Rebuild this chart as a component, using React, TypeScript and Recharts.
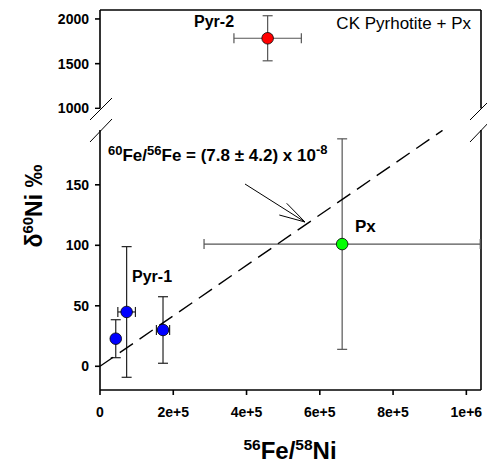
import React from "react";
import { ScatterChart, Scatter, XAxis, YAxis, ErrorBar, ReferenceLine } from "recharts";

// values
const xTicks = [0, 200000, 400000, 600000, 800000, 1000000];
const lowTicks = [0, 50, 100, 150];
const highTicks = [1000, 1500, 2000];
const xDomain = [0, 1040000];
const lowDomain = [-19.6, 195.3];
const highDomain = [1000, 2100];

const pyr1X = [43000, 72700, 172000];
const pyr1Y = [22.8, 44.9, 30];
const pyr1ErrX = [4000, 24000, 18000];
const pyr1ErrY = [15.7, 54, 27.5];

const pyr2X = [457600];
const pyr2Y = [1784];
const pyr2ErrX = [92000];
const pyr2ErrY = [252];

const pxX = [661000];
const pxY = [101];
const pxErrX = [377000];
const pxErrY = [87];

// regression 60Fe/56Fe fit, end points
const fitX = [0, 935000];
const fitY = [0, 195];

const toRows = (xs: number[], ys: number[], exs?: number[], eys?: number[]) =>
  xs.map((x, i) => ({ x, y: ys[i], ex: exs ? exs[i] : 0, ey: eys ? eys[i] : 0 }));

const pyr1 = toRows(pyr1X, pyr1Y, pyr1ErrX, pyr1ErrY);
const pyr2 = toRows(pyr2X, pyr2Y, pyr2ErrX, pyr2ErrY);
const px = toRows(pxX, pxY, pxErrX, pxErrY);
const fit = toRows(fitX, fitY);

const FONT = "'Liberation Sans', Arial, Helvetica, sans-serif";
const tickStyle = { fontSize: 14, fontWeight: 700, fill: "#000", fontFamily: FONT };
const axisLine = { stroke: "#000", strokeWidth: 1.6 };

const fmtX = (v: number) => (v === 0 ? "0" : v.toExponential(0));

const dot = (fill: string) => (p: any) =>
  <circle cx={p.cx} cy={p.cy} r={5.8} fill={fill} stroke="#000" strokeWidth={0.8} />;

export default function App() {
  return (
    <div style={{ position: "absolute", left: 0, top: 0, width: 487, height: 463, background: "#fff" }}>
      {/* lower panel */}
      <div style={{ position: "absolute", left: 0, top: 0 }}>
        <ScatterChart width={487} height={463} margin={{ top: 130, right: 6, bottom: 0, left: 0 }}>
          <XAxis
            type="number"
            dataKey="x"
            domain={xDomain}
            ticks={xTicks}
            tickFormatter={fmtX}
            allowDataOverflow
            height={73}
            tick={tickStyle}
            axisLine={axisLine}
            tickLine={axisLine}
            tickSize={5}
            tickMargin={12}
            interval={0}
          />
          <YAxis
            type="number"
            dataKey="y"
            domain={lowDomain}
            ticks={lowTicks}
            allowDataOverflow
            width={100}
            tick={tickStyle}
            axisLine={axisLine}
            tickLine={axisLine}
            tickSize={5}
            tickMargin={6}
          />
          <ReferenceLine x={xDomain[1]} stroke="#000" strokeWidth={1.6} />
          <Scatter
            data={fit}
            isAnimationActive={false}
            line={{ stroke: "#000", strokeWidth: 1.4, strokeDasharray: "16 8" }}
            shape={() => <g />}
          />
          <Scatter data={px} isAnimationActive={false} shape={dot("#00ff00")}>
            <ErrorBar dataKey="ey" direction="y" width={5} stroke="#555" strokeWidth={1.2} />
            <ErrorBar dataKey="ex" direction="x" width={5} stroke="#555" strokeWidth={1.2} />
          </Scatter>
          <Scatter data={pyr1} isAnimationActive={false} shape={dot("#0000ff")}>
            <ErrorBar dataKey="ey" direction="y" width={5} stroke="#222" strokeWidth={1.2} />
            <ErrorBar dataKey="ex" direction="x" width={5} stroke="#222" strokeWidth={1.2} />
          </Scatter>
        </ScatterChart>
      </div>

      {/* upper panel */}
      <div style={{ position: "absolute", left: 0, top: 0 }}>
        <ScatterChart width={487} height={120} margin={{ top: 10, right: 6, bottom: 11.6, left: 0 }}>
          <XAxis type="number" dataKey="x" domain={xDomain} allowDataOverflow hide />
          <YAxis
            type="number"
            dataKey="y"
            domain={highDomain}
            ticks={highTicks}
            allowDataOverflow
            width={100}
            tick={tickStyle}
            axisLine={axisLine}
            tickLine={axisLine}
            tickSize={5}
            tickMargin={6}
          />
          <ReferenceLine x={xDomain[1]} stroke="#000" strokeWidth={1.6} />
          <ReferenceLine y={highDomain[1]} stroke="#000" strokeWidth={1.6} />
          <Scatter data={pyr2} isAnimationActive={false} shape={dot("#ff0000")}>
            <ErrorBar dataKey="ey" direction="y" width={5} stroke="#555" strokeWidth={1.2} />
            <ErrorBar dataKey="ex" direction="x" width={5} stroke="#555" strokeWidth={1.2} />
          </Scatter>
        </ScatterChart>
      </div>

      {/* annotations, break marks, axis titles */}
      <svg
        width={487}
        height={463}
        style={{ position: "absolute", left: 0, top: 0, pointerEvents: "none" }}
        fontFamily={FONT}
      >
        <rect x={95} y={109} width={10} height={21} fill="#fff" />
        <rect x={476} y={109} width={10} height={21} fill="#fff" />
        <line x1={90} y1={120} x2={112} y2={98} stroke="#000" strokeWidth={1} />
        <line x1={90} y1={142} x2={112} y2={119} stroke="#000" strokeWidth={1} />
        <line x1={470} y1={120} x2={492} y2={98} stroke="#000" strokeWidth={1} />
        <line x1={470} y1={142} x2={492} y2={119} stroke="#000" strokeWidth={1} />

        <text x={471} y={29} fontSize={17} textAnchor="end" fill="#000">CK Pyrhotite + Px</text>
        <text x={194} y={27} fontSize={16} fontWeight={700} fill="#000">Pyr-2</text>
        <text x={132} y={282} fontSize={16} fontWeight={700} fill="#000">Pyr-1</text>
        <text x={355} y={232} fontSize={17} fontWeight={700} fill="#000">Px</text>

        <text x={108} y={161} fontWeight={700} fill="#000">
          <tspan fontSize={13} dy={-6}>60</tspan>
          <tspan fontSize={17} dy={6}>Fe/</tspan>
          <tspan fontSize={13} dy={-6}>56</tspan>
          <tspan fontSize={17} dy={6}>Fe = (7.8 ± 4.2) x 10</tspan>
          <tspan fontSize={13} dy={-7}>-8</tspan>
        </text>

        <line x1={245} y1={184} x2={305} y2={222} stroke="#000" strokeWidth={1} />
        <line x1={286.7} y1={203.3} x2={305} y2={222} stroke="#000" strokeWidth={1} />
        <line x1={279.3} y1={215} x2={305} y2={222} stroke="#000" strokeWidth={1} />

        <text x={290} y={459} textAnchor="middle" fontWeight={700} fill="#000">
          <tspan fontSize={15.5} dy={-9}>56</tspan>
          <tspan fontSize={24} dy={9}>Fe/</tspan>
          <tspan fontSize={15.5} dy={-9}>58</tspan>
          <tspan fontSize={24} dy={9}>Ni</tspan>
        </text>

        <text x={42} y={206} textAnchor="middle" fontWeight={700} fill="#000" transform="rotate(-90 42 206)">
          <tspan fontSize={23}>δ</tspan>
          <tspan fontSize={15} dy={-9}>60</tspan>
          <tspan fontSize={23} dy={9}>Ni ‰</tspan>
        </text>
      </svg>
    </div>
  );
}
